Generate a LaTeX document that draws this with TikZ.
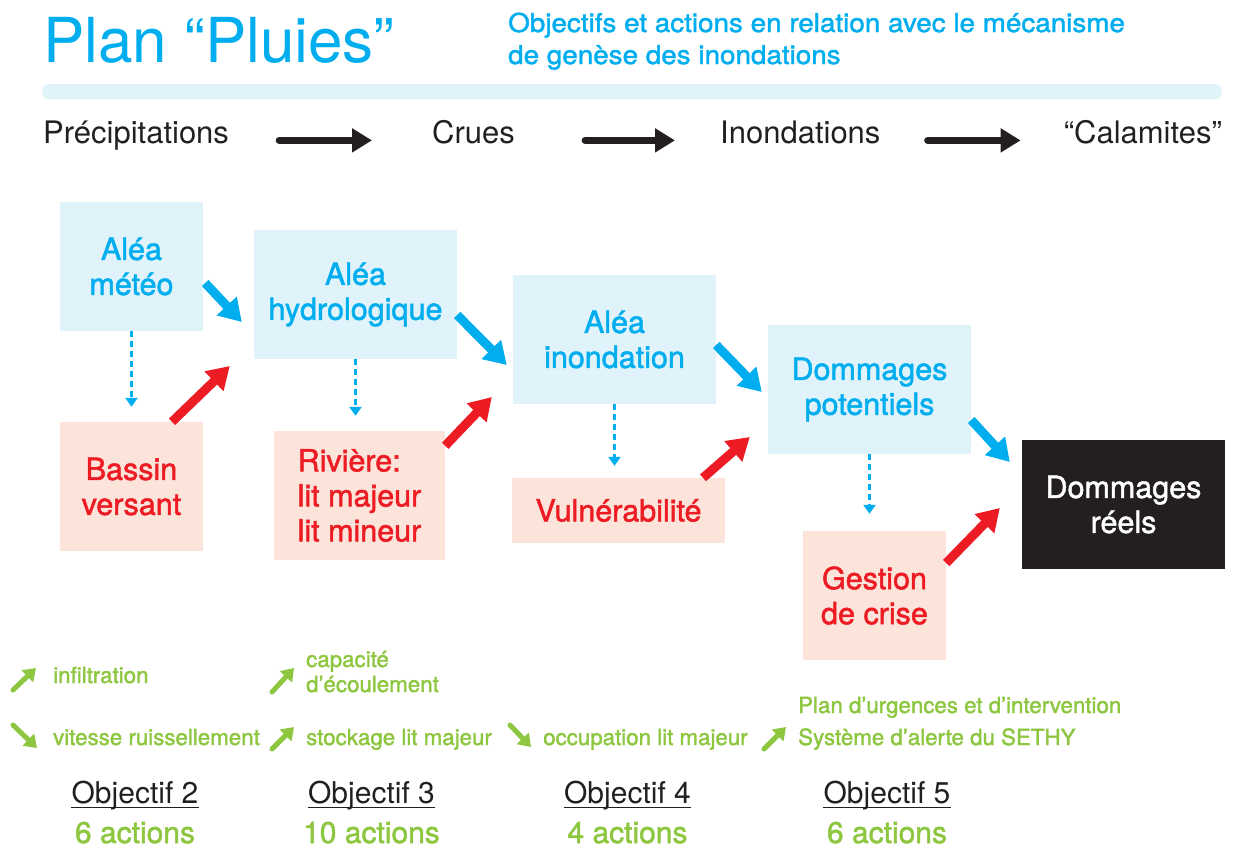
\documentclass[tikz,border=0pt]{standalone}
\usepackage{fontspec}
\setmainfont{TeX Gyre Heros}
\newfontfamily\medfont[FakeBold=1.6]{TeX Gyre Heros}
\newfontfamily\largefont[FakeBold=1.6,FakeStretch=1.07]{TeX Gyre Heros}
\usetikzlibrary{arrows.meta}
\definecolor{bleu}{HTML}{00AEEF}
\definecolor{fondbleu}{HTML}{E0F3FA}
\definecolor{rouge}{HTML}{ED1C24}
\definecolor{fondrose}{HTML}{FCE4DA}
\definecolor{vert}{HTML}{8DC63F}
\definecolor{noir}{HTML}{231F20}

\begin{document}
\begin{tikzpicture}[x=1pt,y=-1pt,
    alea/.style={fill=fondbleu, text=bleu, inner sep=0pt, align=center, font=\medfont\fontsize{30.5}{35}\selectfont},
    facteur/.style={fill=fondrose, text=rouge, inner sep=0pt, align=center, font=\medfont\fontsize{30.5}{35}\selectfont},
    flechebleu/.style={bleu, line width=9pt, -{Triangle[length=22pt,width=26pt]}},
    flecherouge/.style={rouge, line width=9pt, -{Triangle[length=22pt,width=26pt]}},
    tiret/.style={bleu, line width=2.2pt, dash pattern=on 6pt off 4pt, -{Triangle[length=9pt,width=12pt]}},
    flechenoire/.style={noir, line width=7pt, line cap=round, -{Triangle[length=20pt,width=23pt]}},
    petitvert/.style={vert, line width=5pt, line cap=round, -{Triangle[length=12pt,width=16pt]}},
    etape/.style={noir, inner sep=0pt, font=\fontsize{31}{35}\selectfont},
    levier/.style={vert, inner sep=0pt, anchor=base west, align=left, font=\medfont\fontsize{22.3}{25}\selectfont}]
  \useasboundingbox (0,0) rectangle (1238,847);

  \node[bleu, inner sep=0pt, anchor=base west, font=\fontsize{62}{70}\selectfont] (titre) at (43,62) {Plan “Pluies”};
  \node[bleu, inner sep=0pt, anchor=base west, font=\largefont\fontsize{26}{32}\selectfont] (soustitre1) at (508,32) {Objectifs et actions en relation avec le mécanisme};
  \node[bleu, inner sep=0pt, anchor=base west, font=\largefont\fontsize{26}{32}\selectfont] (soustitre2) at (508,64) {de genèse des inondations};
  \fill[fondbleu, rounded corners=7.5pt] (42,84) rectangle (1222,99);

  \node[etape, anchor=base west] (precip) at (43,143) {Précipitations};
  \node[etape, anchor=base west] (crues) at (432,143) {Crues};
  \node[etape, anchor=base west] (inondations) at (720,143) {Inondations};
  \node[etape, anchor=base east] (calamites) at (1222,143) {“Calamites”};
  \draw[flechenoire] ([xshift=50pt]precip.mid east) -- ([xshift=-60pt]crues.mid west);
  \draw[flechenoire] ([xshift=70pt]crues.mid east) -- ([xshift=-45pt]inondations.mid west);
  \draw[flechenoire] ([xshift=47pt]inondations.mid east) -- ([xshift=-43pt]calamites.mid west);

  \node[alea, minimum width=143pt, minimum height=129pt] (meteo) at (131.5,266.5) {Aléa\\météo};
  \node[alea, minimum width=203pt, minimum height=129pt] (hydro) at (355.5,294.5) {Aléa\\hydrologique};
  \node[alea, minimum width=203pt, minimum height=129pt] (inond) at (614.5,339.5) {Aléa\\inondation};
  \node[alea, minimum width=203pt, minimum height=129pt] (potentiels) at (869.5,389.5) {Dommages\\potentiels};
  \node[facteur, minimum width=143pt, minimum height=129pt] (bassin) at (131.5,486.5) {Bassin\\versant};
  \node[facteur, minimum width=171pt, minimum height=129pt, align=left] (riviere) at (359.5,495.5) {Rivière:\\lit majeur\\lit mineur};
  \node[facteur, minimum width=213pt, minimum height=65pt] (vulner) at (618.5,510.5) {Vulnérabilité};
  \node[facteur, minimum width=143pt, minimum height=129pt] (crise) at (874.5,595.5) {Gestion\\de crise};
  \node[fill=noir, text=white, inner sep=0pt, align=center, minimum width=203pt, minimum height=129pt, font=\medfont\fontsize{30.5}{35}\selectfont] (reels) at (1123.5,504.5) {Dommages\\réels};

  \draw[flechebleu] ([xshift=2pt,yshift=-16.5pt]meteo.east) -- ([xshift=-12pt,yshift=-27.5pt]hydro.west);
  \draw[flechebleu] ([yshift=-20.5pt]hydro.east) -- ([xshift=-6pt,yshift=-25.5pt]inond.west);
  \draw[flechebleu] ([yshift=-5.5pt]inond.east) -- ([xshift=-6pt,yshift=-2.5pt]potentiels.west);
  \draw[flechebleu] ([yshift=-30.5pt]potentiels.east) -- ([xshift=-12pt,yshift=42.5pt]reels.west);
  \draw[flecherouge] ([xshift=40.5pt]bassin.north) -- ([xshift=-24pt,yshift=-71.5pt]hydro.west);
  \draw[flecherouge] ([yshift=-15pt]riviere.north east) -- ([xshift=-21pt,yshift=-57.5pt]inond.west);
  \draw[flecherouge] ([xshift=84.5pt]vulner.north) -- ([xshift=-18pt,yshift=-47.5pt]potentiels.west);
  \draw[flecherouge] ([yshift=32.5pt]crise.east) -- ([xshift=-22pt,yshift=-3.5pt]reels.west);
  \draw[tiret] (meteo.south) -- ([yshift=15pt]meteo.south |- bassin.north);
  \draw[tiret] (hydro.south) -- ([yshift=15pt]hydro.south |- riviere.north);
  \draw[tiret] (inond.south) -- ([yshift=12pt]inond.south |- vulner.north);
  \draw[tiret] (potentiels.south) -- ([yshift=17pt]potentiels.south |- crise.north);

  \draw[petitvert] (13,690) -- (36,668);
  \draw[petitvert] (13,725) -- (37,748);
  \draw[petitvert] (272,692) -- (294,668);
  \draw[petitvert] (272,749) -- (294,727);
  \draw[petitvert] (510,725) -- (531,747);
  \draw[petitvert] (764,749) -- (786,727);
  \node[levier] (infiltration) at (53,683) {infiltration};
  \node[levier] (vitesse) at (53,745) {vitesse ruissellement};
  \node[levier] (capacite) at (306,692) {capacité\\d’écoulement};
  \node[levier] (stockage) at (306,745) {stockage lit majeur};
  \node[levier] (occupation) at (543,745) {occupation lit majeur};
  \node[levier] (urgences) at (798,713) {Plan d’urgences et d’intervention};
  \node[levier] (alerte) at (798,745) {Système d’alerte du SETHY};

  \foreach \x/\num/\nb in {135/2/6, 371.5/3/10, 627.5/4/4, 887/5/6} {
    \node[noir, inner sep=0pt, anchor=base, font=\fontsize{30}{36}\selectfont] (obj\num) at (\x,803) {Objectif \num};
    \draw[noir, line width=1.6pt] ([yshift=-4.5pt]obj\num.base west) -- ([yshift=-4.5pt]obj\num.base east);
    \node[vert, inner sep=0pt, anchor=base, font=\medfont\fontsize{30}{36}\selectfont] (act\num) at (\x,843) {\nb\ actions};
  }
\end{tikzpicture}
\end{document}
